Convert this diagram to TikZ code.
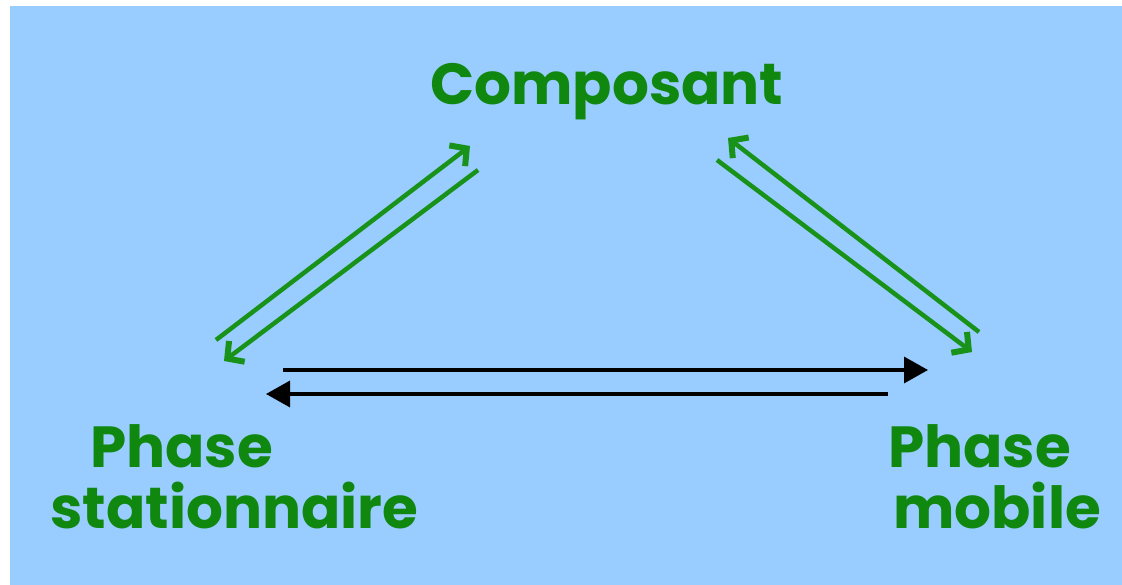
\documentclass[tikz,border=0pt]{standalone}
\usepackage{fontspec}
\setmainfont{Poppins}
\usetikzlibrary{arrows.meta}
\definecolor{bgblue}{RGB}{153,204,255}
\definecolor{txtgreen}{RGB}{16,136,16}
\definecolor{lngreen}{RGB}{24,146,24}
\tikzset{
  lbl/.style={font=\fontsize{58}{68}\selectfont\bfseries, text=txtgreen, inner sep=0pt, anchor=base west},
  garrow/.style={draw=lngreen, line width=4.5pt, -{Straight Barb[length=12pt, width=26pt, line width=6pt]}},
  karrow/.style={draw=black, line width=3.4pt, -{Triangle[length=24pt, width=26pt]}}
}
\begin{document}
\begin{tikzpicture}[x=1pt,y=-1pt]
\useasboundingbox (0,0) rectangle (1122,585);
\fill[white] (0,0) rectangle (1122,585);
\fill[bgblue] (10,6) rectangle (1122,585);
\node[lbl] (comp) at (430,105) {Composant};
\node[lbl] (ps1) at (90,467) {Phase};
\node[lbl] (ps2) at (50,528) {stationnaire};
\node[lbl] (pm1) at (888,467) {Phase};
\node[lbl] (pm2) at (893,528) {mobile};
% left double arrow
\coordinate (la1) at (216,340);
\coordinate (la2) at (470,146);
\coordinate (lb1) at (478,170);
\coordinate (lb2) at (224,361);
\draw[garrow] (la1) -- (la2);
\draw[garrow] (lb1) -- (lb2);
% right double arrow
\coordinate (ra1) at (979,332);
\coordinate (ra2) at (728,138);
\coordinate (rb1) at (717,160);
\coordinate (rb2) at (972,352);
\draw[garrow] (ra1) -- (ra2);
\draw[garrow] (rb1) -- (rb2);
% horizontal arrows
\coordinate (h1) at (283,370);
\coordinate (h2) at (928,370);
\coordinate (h3) at (888,394);
\coordinate (h4) at (266,394);
\draw[karrow] (h1) -- (h2);
\draw[karrow] (h3) -- (h4);
\end{tikzpicture}
\end{document}
